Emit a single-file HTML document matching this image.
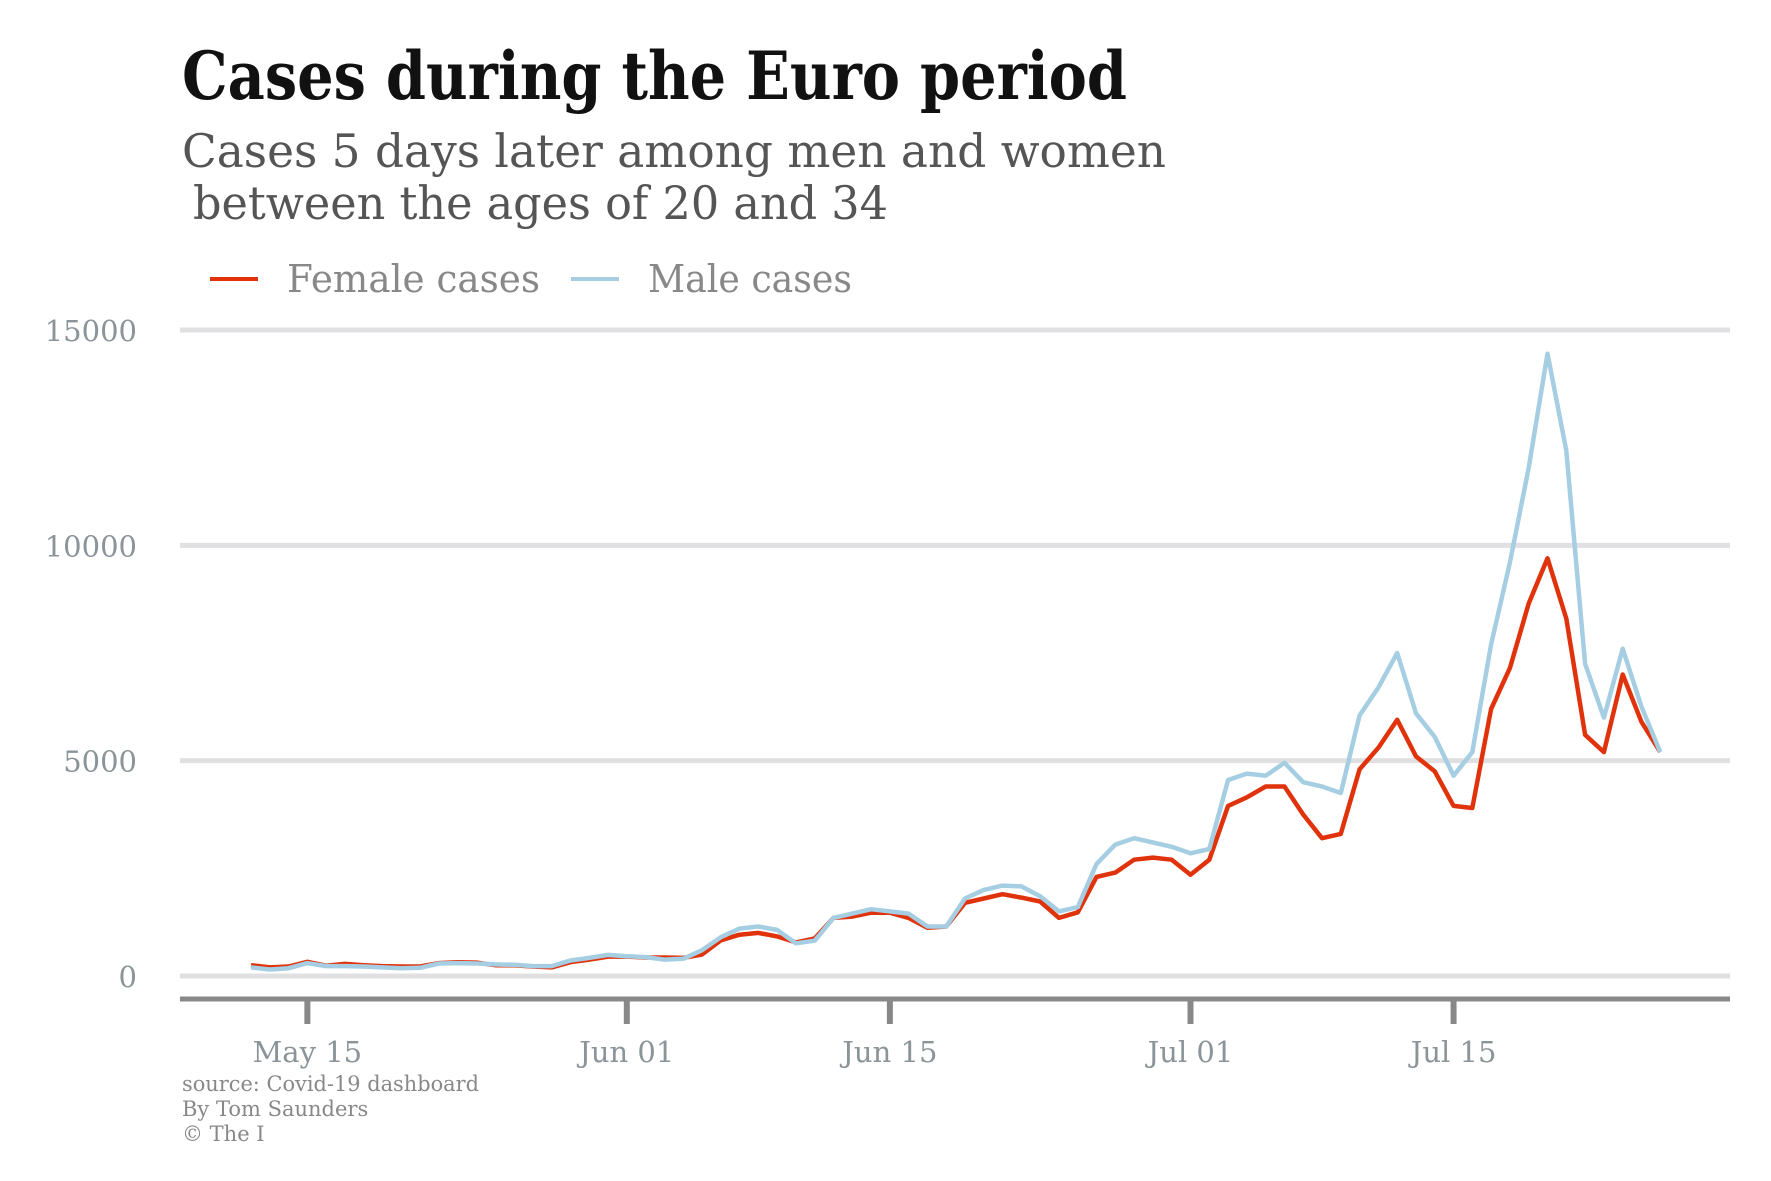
<!DOCTYPE html>
<html><head><meta charset="utf-8"><style>
html,body{margin:0;padding:0;background:#fff;}
svg{display:block;font-family:"DejaVu Serif","Liberation Serif",serif;}
</style></head><body>
<svg id="chart" width="1771" height="1181" viewBox="0 0 1771 1181" xmlns="http://www.w3.org/2000/svg">
<text x="182" y="99" font-size="66" font-weight="bold" fill="#111" textLength="945" lengthAdjust="spacingAndGlyphs">Cases during the Euro period</text>
<text x="182" y="167" font-size="46" fill="#555" textLength="984" lengthAdjust="spacingAndGlyphs">Cases 5 days later among men and women</text>
<text x="193" y="219" font-size="46" fill="#555" textLength="695" lengthAdjust="spacingAndGlyphs">between the ages of 20 and 34</text>
<g>
<line x1="210" y1="279" x2="258" y2="279" stroke="#e0330c" stroke-width="4"/>
<text x="287" y="292" font-size="38" fill="#888" textLength="253" lengthAdjust="spacingAndGlyphs">Female cases</text>
<line x1="571" y1="279" x2="619" y2="279" stroke="#a6cee3" stroke-width="4"/>
<text x="648" y="292" font-size="38" fill="#888" textLength="204" lengthAdjust="spacingAndGlyphs">Male cases</text>
</g>
<g id="grid"></g>
<g id="xaxis"></g>
<g id="series"></g>
<g font-size="21" fill="#888">
<text x="182" y="1091" textLength="297" lengthAdjust="spacingAndGlyphs">source: Covid-19 dashboard</text>
<text x="182" y="1116">By Tom Saunders</text>
<text x="182" y="1141">© The I</text>
</g>
</svg>
<script>
const yTicks = [0, 5000, 10000, 15000];
const xTickLabels = ["May 15", "Jun 01", "Jun 15", "Jul 01", "Jul 15"];
const xTickDays = [3, 20, 34, 50, 64];
const female = [250,200,220,330,240,280,250,230,220,220,300,320,310,250,250,220,200,320,380,450,450,430,430,420,500,830,960,1000,920,780,870,1350,1380,1470,1470,1350,1120,1150,1700,1800,1900,1820,1730,1350,1480,2300,2400,2700,2750,2700,2350,2700,3950,4150,4400,4400,3750,3200,3300,4800,5300,5950,5100,4750,3950,3900,6200,7150,8650,9700,8300,5600,5200,7000,5900,5200];
const male = [200,150,180,300,230,230,220,200,180,190,290,300,290,270,260,230,230,360,420,490,460,440,380,400,600,900,1100,1150,1070,760,820,1350,1450,1550,1500,1450,1150,1150,1800,2000,2100,2080,1850,1500,1600,2600,3050,3200,3100,3000,2850,2950,4550,4700,4650,4950,4500,4400,4250,6050,6700,7500,6100,5550,4650,5200,7700,9600,11800,14450,12200,7250,6000,7600,6250,5200];

const NS = "http://www.w3.org/2000/svg";
const plotL = 180, plotR = 1730, y0 = 976, yTop = 330, yMax = 15000;
const x0 = 251, dx = 18.79;
function xScale(i){ return x0 + dx * i; }
function yScale(v){ return y0 - v / yMax * (y0 - yTop); }
function mk(tag, attrs, parent){
  const el = document.createElementNS(NS, tag);
  for (const k in attrs) el.setAttribute(k, attrs[k]);
  parent.appendChild(el);
  return el;
}
const grid = document.getElementById("grid");
yTicks.forEach(function(t){
  const y = yScale(t);
  const gl = mk("line", {x1: plotL, x2: plotR, y1: y, y2: y, stroke: "#e0e0e2", "stroke-width": 5}, grid);
  
  
  const lb = mk("text", {x: 137, y: y + 11, "text-anchor": "end", "font-size": 29, fill: "#8a9499"}, grid);
  lb.textContent = t;
  
  
});
const xa = document.getElementById("xaxis");
const axl = mk("line", {x1: plotL, x2: plotR, y1: 999, y2: 999, stroke: "#888", "stroke-width": 5}, xa);


xTickDays.forEach(function(d, k){
  const x = xScale(d);
  const tk = mk("line", {x1: x, x2: x, y1: 999, y2: 1024, stroke: "#888", "stroke-width": 6}, xa);
  
  
  const lb = mk("text", {x: x, y: 1062, "text-anchor": "middle", "font-size": 29, fill: "#8a9499"}, xa);
  lb.textContent = xTickLabels[k];
  
  
});
const sg = document.getElementById("series");
function pts(arr){ return arr.map(function(v, i){ return xScale(i).toFixed(1) + "," + yScale(v).toFixed(1); }).join(" "); }
const fl = mk("polyline", {points: pts(female), fill: "none", stroke: "#e0330c", "stroke-width": 4.5, "stroke-linejoin": "round"}, sg);


const ml = mk("polyline", {points: pts(male), fill: "none", stroke: "#a6cee3", "stroke-width": 4.5, "stroke-linejoin": "round"}, sg);


</script>
</body></html>
